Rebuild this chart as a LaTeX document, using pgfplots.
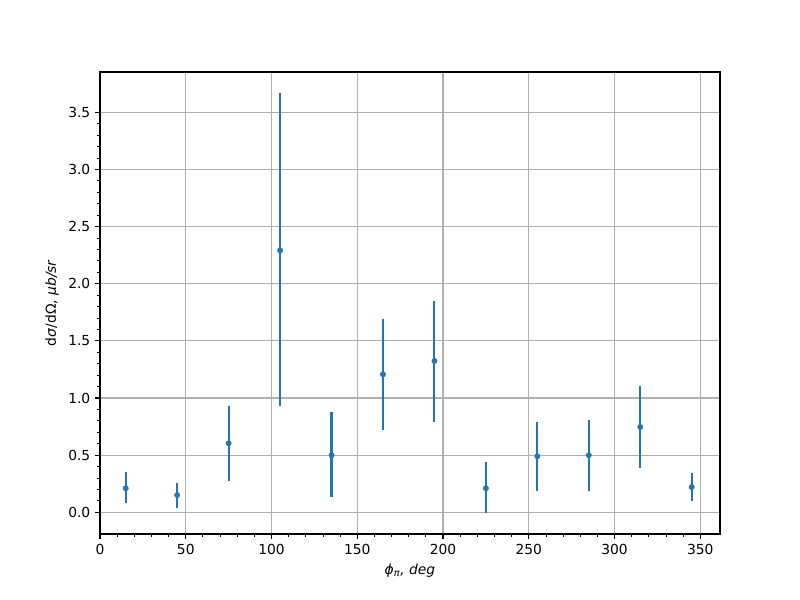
\documentclass[border=0pt]{standalone}
\usepackage{fontspec}
\setmainfont{DejaVu Sans}
\usepackage{pgfplots}
\pgfplotsset{compat=1.18}
\usepackage{pgfplotstable}
\definecolor{C0}{HTML}{1F77B4}
\definecolor{gridc}{HTML}{B0B0B0}
\pgfplotstableread{
x y ep em
15 0.210 0.140 0.126
45 0.151 0.103 0.111
75 0.604 0.326 0.327
105 2.292 1.374 1.359
135 0.499 0.376 0.368
165 1.207 0.482 0.484
195 1.324 0.525 0.531
225 0.210 0.230 0.213
255 0.490 0.300 0.300
285 0.499 0.309 0.309
315 0.746 0.359 0.356
345 0.221 0.123 0.121
}\datatable
\begin{document}
\begin{tikzpicture}
\useasboundingbox (-1in,-0.66in) rectangle (7in,5.34in);
\begin{axis}[
  at={(0,0)}, anchor=south west,
  scale only axis, width=6.2in, height=4.62in,
  xmin=0, xmax=361.5, ymin=-0.19, ymax=3.852,
  xtick={0,50,...,350}, ytick={0,0.5,...,3.5},
  minor x tick num=4, minor y tick num=4,
  tick pos=left, tick align=outside,
  major tick length=3.5pt, minor tick length=2pt,
  every tick/.style={black, line width=0.8pt},
  minor tick style={line width=0.6pt},
  axis line style={line width=0.8pt},
  grid=major, major grid style={gridc, line width=0.8pt},
  /pgf/number format/assume math mode=true,
  yticklabel style={/pgf/number format/.cd, fixed, fixed zerofill, precision=1},
  ticklabel style={font=\fontsize{10}{12}\selectfont},
  label style={font=\fontsize{10}{12}\selectfont},
  xlabel={\textit{ϕ\textsubscript{π}, deg}},
  ylabel={d\textit{σ}/dΩ, \textit{μb/sr}},
]
\addplot[only marks, color=C0, mark=*, mark size=1.9pt, mark options={draw=C0, fill=C0},
  error bars/.cd, y dir=both, y explicit, error mark=none,
  error bar style={line width=1.5pt, C0}]
  table[x=x, y=y, y error plus=ep, y error minus=em] {\datatable};
\end{axis}
\end{tikzpicture}
\end{document}
